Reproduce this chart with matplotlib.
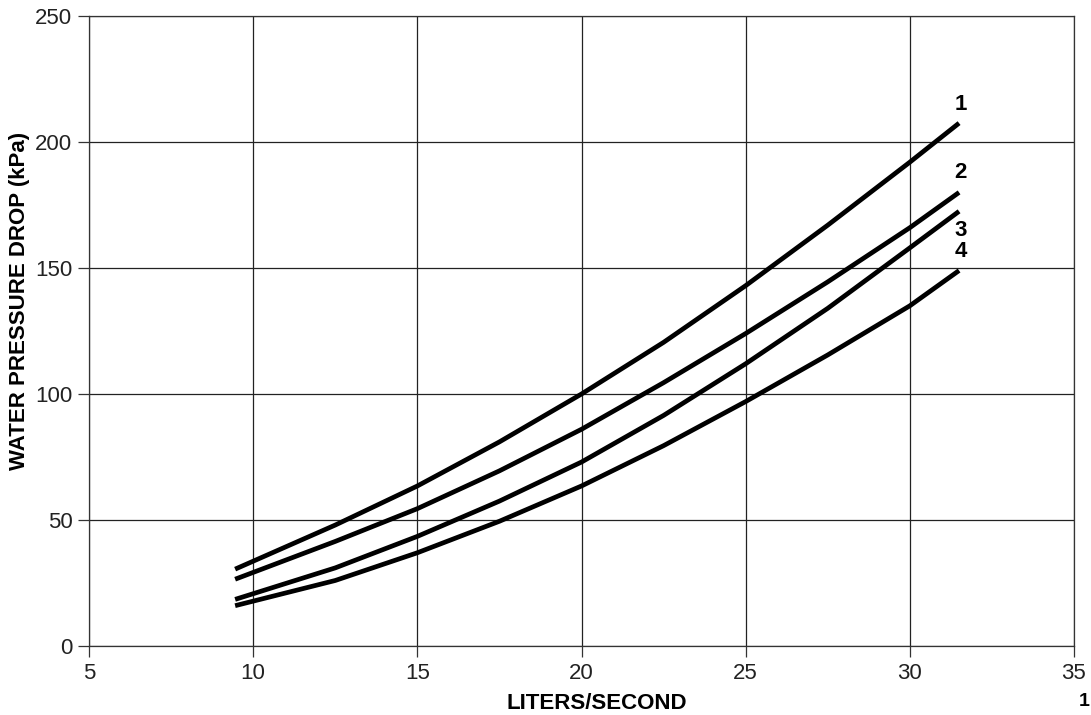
import matplotlib.pyplot as plt

liters = [9.45, 12.5, 15, 17.5, 20, 22.5, 25, 27.5, 30, 31.5]
curve_1 = [30.5, 48, 63.5, 81, 100, 120.5, 143, 167, 192, 207.5]
curve_2 = [26.5, 41.5, 54.5, 69.5, 86, 104.5, 124, 144.5, 166, 180]
curve_3 = [18.5, 31, 43.5, 57.5, 73, 91.5, 112, 134, 158, 172.5]
curve_4 = [16, 26, 37, 49.5, 63.5, 79.5, 97, 115.5, 135, 149]
curve_names = ['1', '2', '3', '4']

plt.rcParams['font.family'] = ['Liberation Sans', 'DejaVu Sans']

fig = plt.figure(figsize=(10.91, 7.15), dpi=100)
ax = fig.add_axes([0.0816, 0.0965, 0.9028, 0.8811])

for ys in [curve_1, curve_2, curve_3, curve_4]:
    ax.plot(liters, ys, color='black', lw=3.4, solid_capstyle='butt',
            solid_joinstyle='round', zorder=3)

# curve numbers at the right-hand ends
label_y = [215, 188, 165, 156.5]
for name, ly in zip(curve_names, label_y):
    ax.text(31.55, ly, name, fontsize=16, fontweight='bold', ha='center', va='center')

ax.set_xlim(5, 35)
ax.set_ylim(0, 250)
ax.set_xticks(range(5, 36, 5))
ax.set_yticks(range(0, 251, 50))
ax.grid(True, color='#222222', lw=0.9)
for s in ax.spines.values():
    s.set_color('#333333')
    s.set_linewidth(0.9)
ax.tick_params(direction='out', length=8, width=0.9, color='#333333',
               labelsize=16, labelcolor='#222222', pad=4)

ax.set_xlabel('LITERS/SECOND', fontsize=16, fontweight='bold')
ax.xaxis.set_label_coords(0.515, -0.075)
ax.set_ylabel('WATER PRESSURE DROP (kPa)', fontsize=16, fontweight='bold')
ax.yaxis.set_label_coords(-0.06, 0.548)

# page number in the corner
fig.text(1090 / 1091, 1 - 702 / 715, '1', fontsize=14, fontweight='bold', ha='right', va='center')

fig.savefig('out.png', dpi=100)
